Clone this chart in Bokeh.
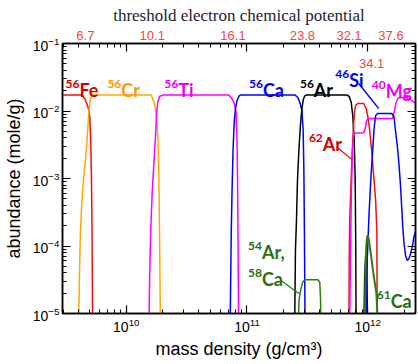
from bokeh.plotting import figure
from bokeh.models import Range1d, LogAxis, FixedTicker, CustomJSTickFormatter
from bokeh.core.properties import value
from bokeh.embed import file_html
from bokeh.resources import INLINE

# ---------------- data (mass density g/cm^3, abundance mole/g) ----------------
fe56_rho = [2.9e9, 4.25e9, 4.41e9, 4.54e9, 4.67e9, 4.83e9, 4.98e9, 5.07e9, 5.14e9, 5.20e9, 5.26e9]
fe56_Y = [0.0173, 0.0173, 0.0161, 0.0151, 0.0134, 0.0113, 0.0081, 0.00366, 0.00111, 1.7e-4, 5e-6]

cr56_rho = [4.01e9, 4.09e9, 4.17e9, 4.29e9, 4.41e9, 4.58e9, 4.73e9, 4.90e9, 5.07e9, 5.31e9,
            1.61e10, 1.71e10, 1.77e10, 1.83e10, 1.86e10, 1.885e10, 1.92e10]
cr56_Y = [5e-6, 3.66e-5, 1.70e-4, 4.72e-4, 9.34e-4, 1.85e-3, 3.66e-3, 1.02e-2, 1.585e-2, 0.0173,
          0.0173, 1.29e-2, 9.18e-3, 3.66e-3, 1.11e-3, 1.70e-4, 5e-6]

ti56_rho = [1.535e10, 1.564e10, 1.594e10, 1.641e10, 1.688e10, 1.737e10, 1.781e10, 1.821e10, 1.885e10, 2.01e10,
            7.10e10, 7.59e10, 7.88e10, 8.11e10, 8.27e10, 8.35e10, 8.43e10, 8.53e10]
ti56_Y = [5e-6, 4.34e-5, 1.70e-4, 6.64e-4, 1.56e-3, 3.66e-3, 9.18e-3, 1.336e-2, 1.64e-2, 0.0173,
          0.0173, 1.48e-2, 1.25e-2, 9.5e-3, 3.66e-3, 9.34e-4, 1.21e-4, 5e-6]

ca56_rho = [7.24e10, 7.34e10, 7.41e10, 7.52e10, 7.66e10, 7.85e10, 8.04e10, 8.27e10, 8.59e10, 8.92e10,
            2.49e11, 2.64e11, 2.74e11, 2.85e11, 2.92e11, 2.96e11, 2.99e11, 3.03e11]
ca56_Y = [5e-6, 4.34e-5, 1.70e-4, 6.64e-4, 2.60e-3, 7.23e-3, 1.09e-2, 1.43e-2, 1.67e-2, 0.0173,
          0.0173, 1.585e-2, 1.336e-2, 1.02e-2, 5.14e-3, 1.31e-3, 1.70e-4, 5e-6]

ar56_rho = [2.48e11, 2.52e11, 2.57e11, 2.62e11, 2.69e11, 2.77e11, 2.85e11, 2.93e11, 3.01e11, 3.13e11,
            6.71e11, 7.03e11, 7.31e11, 7.52e11, 7.74e11, 7.88e11, 7.96e11, 8.02e11,
            9.27e11, 9.45e11, 9.63e11, 9.81e11, 1.0e12]
ar56_Y = [5e-6, 8.58e-5, 2.39e-4, 9.34e-4, 2.60e-3, 6.10e-3, 1.09e-2, 1.48e-2, 1.67e-2, 0.0173,
          0.0173, 1.64e-2, 1.336e-2, 8.58e-3, 3.66e-3, 9.34e-4, 1.21e-4, 5e-6,
          5e-6, 3.66e-5, 7.2e-5, 5.7e-5, 5e-6]

ar54_ca58_rho = [2.64e11, 2.70e11, 2.76e11, 2.89e11, 3.01e11, 3.88e11, 4.01e11, 4.07e11, 4.10e11]
ar54_ca58_Y = [5e-6, 1.56e-5, 2.07e-5, 2.91e-5, 3.15e-5, 3.15e-5, 2.91e-5, 1.56e-5, 5e-6]

ar62_rho = [6.99e11, 7.03e11, 7.10e11, 7.24e11, 7.45e11, 7.66e11, 7.81e11, 7.96e11, 8.27e11, 9.27e11,
            9.72e11, 1.01e12, 1.039e12, 1.079e12, 1.121e12, 1.164e12, 1.191e12, 1.20e12]
ar62_Y = [5e-6, 6.10e-5, 2.39e-4, 6.64e-4, 2.60e-3, 6.75e-3, 1.02e-2, 1.21e-2, 1.29e-2, 1.29e-2,
          1.09e-2, 7.74e-3, 5.14e-3, 2.60e-3, 1.11e-3, 4.72e-4, 1.70e-4, 5e-6]

mg40_rho = [7.07e11, 7.21e11, 7.33e11, 7.48e11, 7.66e11, 9.27e11, 9.54e11, 9.81e11, 1.01e12, 1.61e12,
            1.67e12, 1.72e12, 1.79e12, 2.06e12, 2.23e12, 2.36e12, 2.54e12]
mg40_Y = [5e-6, 8.58e-5, 6.64e-4, 2.60e-3, 4.7e-3, 4.75e-3, 5.50e-3, 7.23e-3, 7.74e-3, 7.74e-3,
          1.02e-2, 1.336e-2, 1.558e-2, 1.60e-2, 1.506e-2, 1.406e-2, 1.248e-2]

si46_rho = [9.63e11, 9.91e11, 1.025e12, 1.06e12, 1.10e12, 1.13e12, 1.164e12, 1.21e12, 1.58e12, 1.65e12,
            1.70e12, 1.77e12, 1.82e12, 1.87e12, 1.91e12, 1.95e12, 2.00e12, 2.06e12, 2.13e12, 2.20e12,
            2.27e12, 2.36e12, 2.41e12, 2.49e12, 2.59e12]
si46_Y = [5e-6, 6.10e-5, 2.83e-4, 9.34e-4, 2.60e-3, 5.50e-3, 8.58e-3, 9.18e-3, 9.18e-3, 8.29e-3,
          5.14e-3, 2.78e-3, 1.56e-3, 7.88e-4, 3.98e-4, 2.01e-4, 1.09e-4, 7.23e-5, 6.10e-5, 6.53e-5,
          7.74e-5, 1.05e-4, 1.34e-4, 1.64e-4, 1.95e-4]

ca61_rho = [9.38e11, 9.50e11, 9.63e11, 9.76e11, 9.94e11, 1.019e12, 1.06e12, 1.127e12, 1.18e12, 1.20e12, 1.21e12]
ca61_Y = [5e-6, 1.11e-5, 6.10e-5, 1.09e-4, 1.43e-4, 1.29e-4, 7.74e-5, 3.42e-5, 1.98e-5, 1.11e-5, 5e-6]

# threshold electron chemical potentials (top axis) and the one written inside
threshold_rho = [4.58e9, 1.64e10, 7.66e10, 2.88e11, 7.03e11, 1.56e12]
threshold_labels = ["6.7", "10.1", "16.1", "23.8", "32.1", "37.6"]
inner_threshold_rho = [1.079e12]
inner_threshold_labels = ["34.1"]

# isotope labels
iso_mass = ["56", "56", "56", "56", "56", "46", "40", "62", "54", "58", "61"]
iso_elem = ["Fe", "Cr", "Ti", "Ca", "Ar", "Si", "Mg", "Ar", "Ar,", "Ca", "Ca"]

y_decades = [1e-5, 1e-4, 1e-3, 1e-2, 1e-1]
x_decades = [1e9, 1e10, 1e11, 1e12, 1e13]

# ---------------- styling ----------------
RED = "#ee1111"
ORANGE = "#ffaa00"
MAGENTA = "#ff00ff"
BLUE = "#0000ff"
BLACK = "#000000"
GREEN = "#2f7d12"

iso_colors = ["#d40000", "#ff9900", "#ee00ee", "#0000ee", "#000000", "#0000ee", "#ee00ee",
              "#d40000", "#2e6e0e", "#2e6e0e", "#2e6e0e"]
iso_x = [4.09e9, 9.09e9, 2.69e10, 1.356e11, 3.58e11, 7.03e11, 1.41e12, 4.25e11, 1.33e11, 1.33e11, 1.55e12]
iso_y = [2.06e-2, 2.06e-2, 2.06e-2, 2.06e-2, 2.06e-2, 2.90e-2, 2.01e-2, 3.30e-3, 8.09e-5, 3.30e-5, 1.558e-5]

x_minors = [m * d for d in x_decades for m in range(2, 10)]
y_minors = [m * d for d in y_decades for m in range(2, 10)]

p = figure(width=418, height=364, x_axis_type="log", y_axis_type="log",
           x_range=Range1d(2.96e9, 2.49e12), y_range=Range1d(1e-5, 1e-1),
           output_backend="svg", toolbar_location=None,
           min_border_left=61, min_border_right=3, min_border_top=43, min_border_bottom=51)
p.grid.visible = False
p.outline_line_color = "black"
p.outline_line_width = 1.5
p.background_fill_color = "white"
p.border_fill_color = "white"

AXFONT = "Liberation Sans"

xax = p.below[0]
xax.ticker = FixedTicker(ticks=x_decades, minor_ticks=x_minors)
yax = p.left[0]
yax.ticker = FixedTicker(ticks=y_decades, minor_ticks=y_minors)
for ax in (xax, yax):
    ax.major_tick_in = 8
    ax.major_tick_out = 0
    ax.minor_tick_in = 4
    ax.minor_tick_out = 0
    ax.axis_line_width = 1.5
    ax.major_tick_line_width = 1.2
    ax.minor_tick_line_width = 1
    ax.major_label_text_font = AXFONT
    ax.major_label_text_font_size = "14px"
    ax.major_label_text_color = "black"
    ax.axis_label_text_font = AXFONT
    ax.axis_label_text_font_style = "normal"
    ax.axis_label_text_font_size = "18px"
    ax.axis_label_text_color = "black"
xax.axis_label = "mass density (g/cm³)"
xax.major_label_standoff = 4
xax.axis_label_standoff = 4
yax.axis_label = "abundance (mole/g)"
yax.major_label_standoff = 3
yax.axis_label_standoff = 6

empty = CustomJSTickFormatter(code="return ''")
right_ax = LogAxis(ticker=FixedTicker(ticks=y_decades, minor_ticks=y_minors), formatter=empty,
                   major_tick_in=8, major_tick_out=0, minor_tick_in=4, minor_tick_out=0,
                   major_label_standoff=0, major_label_text_font_size="0px",
                   axis_line_width=1.5, major_tick_line_width=1.2)
p.add_layout(right_ax, "right")

top_ticks = LogAxis(ticker=FixedTicker(ticks=x_decades, minor_ticks=x_minors), formatter=empty,
                    major_tick_in=8, major_tick_out=0, minor_tick_in=4, minor_tick_out=0,
                    major_label_standoff=0, major_label_text_font_size="0px",
                    axis_line_width=1.5, major_tick_line_width=1.2)
p.add_layout(top_ticks, "above")

top_labels = LogAxis(ticker=FixedTicker(ticks=threshold_rho, minor_ticks=[]),
                     formatter=CustomJSTickFormatter(args=dict(labels=threshold_labels),
                                                     code="return labels[index]"),
                     major_tick_line_color=None, minor_tick_line_color=None, axis_line_color=None,
                     major_tick_in=0, major_tick_out=0,
                     major_label_text_color="#f04545", major_label_text_font=AXFONT,
                     major_label_text_font_size="13px", major_label_standoff=4,
                     axis_label="threshold electron chemical potential",
                     axis_label_text_font="Liberation Serif", axis_label_text_font_style="normal",
                     axis_label_text_font_size="17px", axis_label_text_color="#1c1c30",
                     axis_label_standoff=3)
p.add_layout(top_labels, "above")

# ---------------- curves ----------------
LW = 1.5
p.line(fe56_rho, fe56_Y, color=RED, line_width=LW)
p.line(cr56_rho, cr56_Y, color=ORANGE, line_width=LW)
p.line(ti56_rho, ti56_Y, color=MAGENTA, line_width=LW)
p.line(ca56_rho, ca56_Y, color=BLUE, line_width=LW)
p.line(ar56_rho, ar56_Y, color=BLACK, line_width=LW)
p.line(ar54_ca58_rho, ar54_ca58_Y, color=GREEN, line_width=LW)
p.line(ar62_rho, ar62_Y, color=RED, line_width=LW)
p.line(mg40_rho, mg40_Y, color=MAGENTA, line_width=LW)
p.line(si46_rho, si46_Y, color=BLUE, line_width=LW)
p.line(ca61_rho, ca61_Y, color=GREEN, line_width=2)

# pointer lines for labels
p.line([8.43e11, 1.233e12], [2.555e-2, 1.089e-2], color=BLUE, line_width=1.3)
p.line([5.54e11, 7.31e11], [2.93e-3, 1.945e-3], color=RED, line_width=1.3)
p.line([1.91e11, 2.69e11], [3.08e-5, 1.978e-5], color=GREEN, line_width=1.3)

# isotope labels: mass number (superscript) + element
LABFONT = value("Lato")
p.text(x=iso_x, y=iso_y, text=iso_mass, text_color=iso_colors, text_font=LABFONT,
       text_font_style="bold", text_font_size="12px", text_align="right",
       text_baseline="alphabetic", y_offset=-6)
p.text(x=iso_x, y=iso_y, text=iso_elem, text_color=iso_colors, text_font=LABFONT,
       text_font_style="bold", text_font_size="18px", text_align="left",
       text_baseline="alphabetic")

p.text(x=inner_threshold_rho, y=[5.0e-2], text=inner_threshold_labels, text_color="#f04545",
       text_font=value(AXFONT), text_font_size="13px", text_align="center",
       text_baseline="alphabetic")

open("out.html", "w").write(file_html(p, INLINE))
